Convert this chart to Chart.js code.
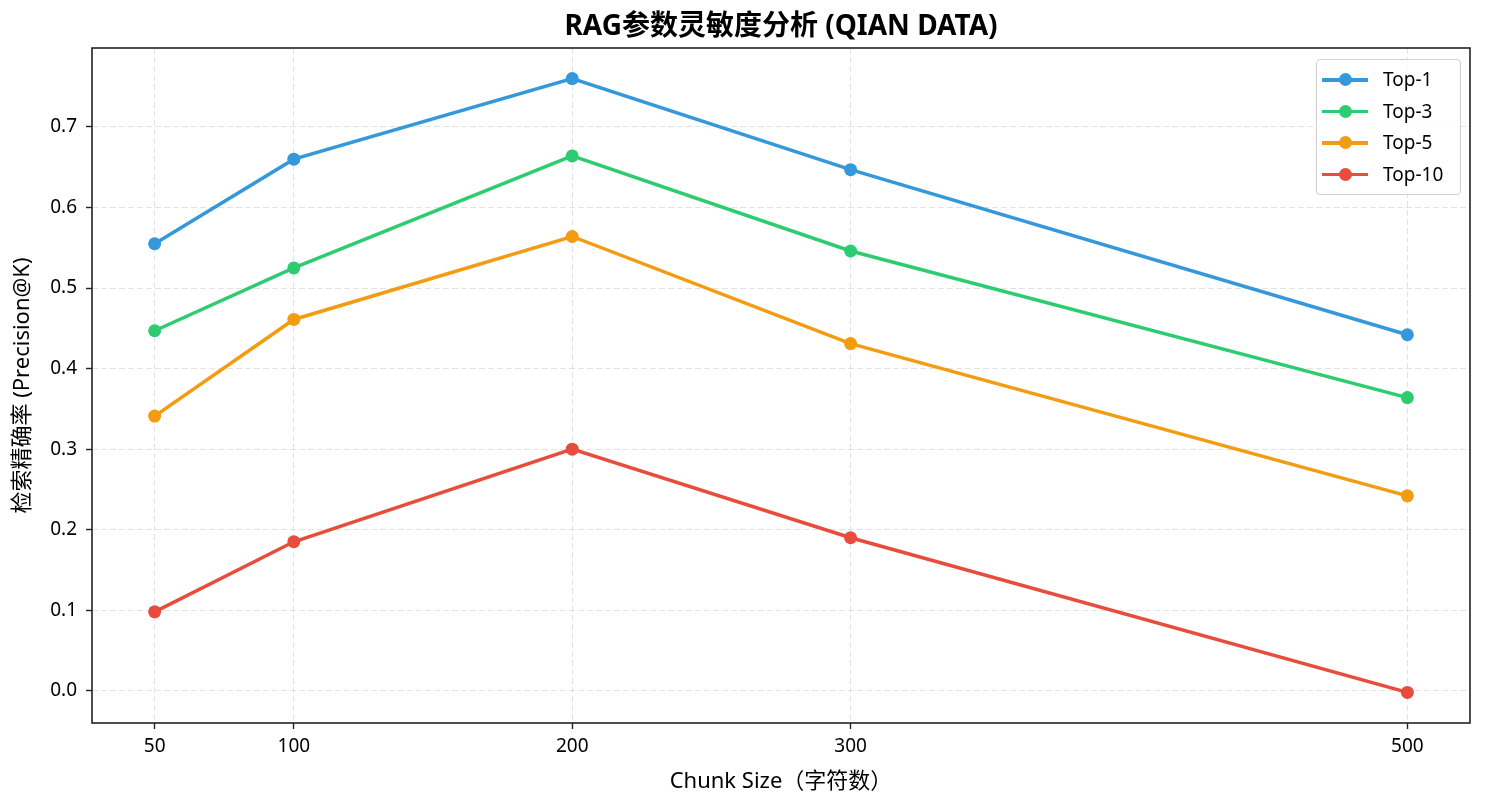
<!DOCTYPE html>
<html>
<head>
<meta charset="utf-8">
<script src="https://cdn.jsdelivr.net/npm/chart.js@4"></script>
<style>
    html, body { margin: 0; padding: 0; background: #fff; }
    #wrap { position: relative; width: 1486px; height: 809px; }
    #legend {
        position: absolute; left: 1316px; top: 59px; width: 145px; height: 136px;
        border: 1px solid #d0d0d0; border-radius: 4px; background: rgba(255,255,255,0.8);
        font-family: "Noto Sans", "Noto Sans CJK SC", sans-serif; font-size: 19px; color: #000;
        box-sizing: border-box; padding-top: 3px;
    }
    .item { position: relative; height: 31.5px; }
    .item .ln { position: absolute; left: 5px; top: 15px; width: 46px; height: 3.5px; }
    .item .dot { position: absolute; left: 21.5px; top: 10px; width: 13px; height: 13px; border-radius: 50%; }
    .item .tx { position: absolute; left: 66px; top: 3px; line-height: 26px; }
</style>
</head>
<body>
<div id="wrap">
    <canvas id="chart" width="1486" height="809"></canvas>
    <div id="legend"></div>
</div>
<script>
// 数据
const chunkSizes = [50, 100, 200, 300, 500];
const seriesNames = ['Top-1', 'Top-3', 'Top-5', 'Top-10'];
const top1 = [0.555, 0.660, 0.760, 0.647, 0.442];
const top3 = [0.447, 0.525, 0.664, 0.546, 0.364];
const top5 = [0.341, 0.461, 0.564, 0.431, 0.242];
const top10 = [0.098, 0.185, 0.300, 0.190, -0.002];
const yTicks = [0.0, 0.1, 0.2, 0.3, 0.4, 0.5, 0.6, 0.7];
const colors = ['#3498db', '#2ecc71', '#f39c12', '#e74c3c'];

const FONT = '"Noto Sans", "Noto Sans CJK SC", sans-serif';
const allSeries = [top1, top3, top5, top10];

const datasets = allSeries.map((vals, i) => ({
    label: seriesNames[i],
    data: chunkSizes.map((x, j) => ({ x: x, y: vals[j] })),
    borderColor: colors[i],
    backgroundColor: colors[i],
    borderWidth: 3.5,
    pointRadius: 6.5,
    pointHoverRadius: 6.5,
    pointBorderWidth: 0,
    tension: 0
}));

// 标题和边框
const framePlugin = {
    id: 'frame',
    afterDraw(chart) {
        const { ctx, chartArea: a } = chart;
        ctx.save();
        ctx.strokeStyle = '#222';
        ctx.lineWidth = 1.6;
        ctx.strokeRect(a.left, a.top, a.right - a.left, a.bottom - a.top);
        ctx.fillStyle = '#000';
        ctx.font = 'bold 28px ' + FONT;
        ctx.textAlign = 'center';
        ctx.textBaseline = 'middle';
        ctx.fillText('RAG参数灵敏度分析 (QIAN DATA)', (a.left + a.right) / 2, 27);
        ctx.restore();
    }
};

const gridOpts = {
    color: 'rgba(200,200,200,0.5)',
    tickColor: '#222',
    tickBorderDash: [],
    tickLength: 6,
    tickWidth: 1.4
};

const ctx = document.getElementById('chart').getContext('2d');
const chart = new Chart(ctx, {
    type: 'line',
    data: { datasets: datasets },
    options: {
        responsive: false,
        animation: false,
        layout: { padding: { left: 0, right: 16, top: 48, bottom: 0 } },
        plugins: {
            legend: { display: false },
            title: { display: false },
            tooltip: { enabled: false }
        },
        scales: {
            x: {
                type: 'linear',
                min: 27.5,
                max: 522.5,
                afterBuildTicks: s => { s.ticks = chunkSizes.map(v => ({ value: v })); },
                afterFit: s => { s.height = 86; },
                grid: gridOpts,
                border: { display: false, dash: [6, 3] },
                ticks: {
                    color: '#000',
                    font: { family: FONT, size: 19 },
                    padding: 6,
                    maxRotation: 0,
                    callback: v => String(v)
                },
                title: {
                    display: true,
                    text: 'Chunk Size（字符数）',
                    color: '#000',
                    font: { family: FONT, size: 22 },
                    padding: { top: 0, bottom: 14 }
                }
            },
            y: {
                min: -0.040,
                max: 0.798,
                afterBuildTicks: s => { s.ticks = yTicks.map(v => ({ value: v })); },
                afterFit: s => { s.width = 92; },
                grid: gridOpts,
                border: { display: false, dash: [6, 3] },
                ticks: {
                    color: '#000',
                    font: { family: FONT, size: 19 },
                    padding: 9,
                    callback: v => v.toFixed(1)
                },
                title: {
                    display: true,
                    text: '检索精确率 (Precision@K)',
                    color: '#000',
                    font: { family: FONT, size: 22 },
                    padding: { top: 10, bottom: 0 }
                }
            }
        }
    },
    plugins: [framePlugin]
});

// 图例
const legendEl = document.getElementById('legend');
seriesNames.forEach((name, i) => {
    const item = document.createElement('div');
    item.className = 'item';
    item.innerHTML = '<span class="ln" style="background:' + colors[i] + '"></span>' +
        '<span class="dot" style="background:' + colors[i] + '"></span>' +
        '<span class="tx">' + name + '</span>';
    legendEl.appendChild(item);
});
</script>
</body>
</html>
